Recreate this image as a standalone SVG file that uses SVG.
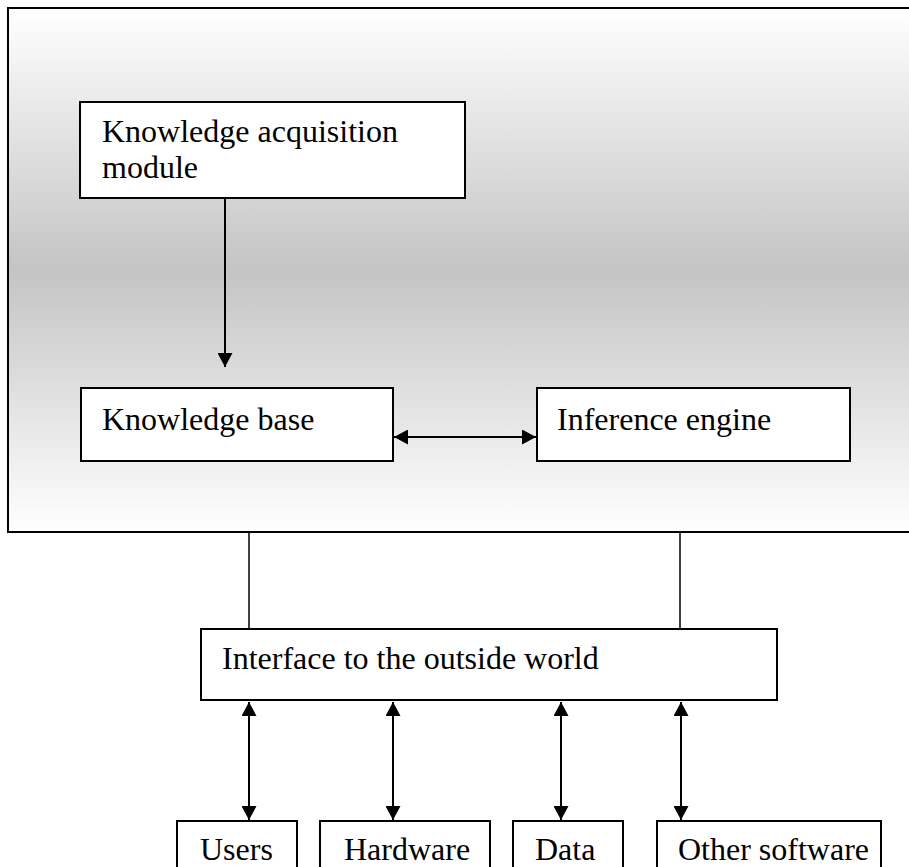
<svg xmlns="http://www.w3.org/2000/svg" width="909" height="867" viewBox="0 0 909 867">
  <defs>
    <linearGradient id="shade" x1="0" y1="0" x2="0" y2="1">
      <stop offset="0" stop-color="#ffffff"/>
      <stop offset="0.5" stop-color="#c4c4c4"/>
      <stop offset="1" stop-color="#ffffff"/>
    </linearGradient>
    <marker id="head" viewBox="0 0 14 15" refX="14" refY="7.5" markerWidth="14" markerHeight="15" markerUnits="userSpaceOnUse" orient="auto-start-reverse">
      <path d="M0,0 L14,7.5 L0,15 Z" fill="#000"/>
    </marker>
  </defs>
  <style>
    .box { fill: #ffffff; stroke: #000000; stroke-width: 2; }
    .label { font-family: "Liberation Serif", "Times New Roman", serif; font-size: 32px; fill: #000000; }
    .arrow { stroke: #000000; stroke-width: 2; fill: none; }
    .plain { stroke: #000000; stroke-width: 1.5; fill: none; }
  </style>

  <rect width="909" height="867" fill="#ffffff"/>

  <!-- shaded system boundary -->
  <g id="system">
    <rect x="8" y="8" width="920" height="524" fill="url(#shade)" stroke="#000" stroke-width="2"/>
  </g>

  <g id="connectors">
    <line class="arrow" x1="225" y1="198" x2="225" y2="367" marker-end="url(#head)"/>
    <line class="arrow" x1="394" y1="437" x2="536" y2="437" marker-start="url(#head)" marker-end="url(#head)"/>
    <line class="plain" x1="249" y1="532" x2="249" y2="629"/>
    <line class="plain" x1="680" y1="532" x2="680" y2="629"/>
    <line class="arrow" x1="249" y1="702" x2="249" y2="820" marker-start="url(#head)" marker-end="url(#head)"/>
    <line class="arrow" x1="393" y1="702" x2="393" y2="820" marker-start="url(#head)" marker-end="url(#head)"/>
    <line class="arrow" x1="561" y1="702" x2="561" y2="820" marker-start="url(#head)" marker-end="url(#head)"/>
    <line class="arrow" x1="681" y1="702" x2="681" y2="820" marker-start="url(#head)" marker-end="url(#head)"/>
  </g>

  <g id="acquisition">
    <rect class="box" x="80" y="102" width="385" height="96"/>
    <text class="label" x="102" y="142">Knowledge acquisition</text>
    <text class="label" x="102" y="178">module</text>
  </g>

  <g id="knowledge-base">
    <rect class="box" x="81" y="388" width="312" height="73"/>
    <text class="label" x="102" y="430">Knowledge base</text>
  </g>

  <g id="inference-engine">
    <rect class="box" x="537" y="388" width="313" height="73"/>
    <text class="label" x="557" y="430">Inference engine</text>
  </g>

  <g id="interface">
    <rect class="box" x="201" y="629" width="576" height="71"/>
    <text class="label" x="222" y="669">Interface to the outside world</text>
  </g>

  <g id="users">
    <rect class="box" x="177" y="821" width="120" height="70"/>
    <text class="label" x="200" y="860">Users</text>
  </g>

  <g id="hardware">
    <rect class="box" x="320" y="821" width="170" height="70"/>
    <text class="label" x="344" y="860">Hardware</text>
  </g>

  <g id="data">
    <rect class="box" x="513" y="821" width="110" height="70"/>
    <text class="label" x="535" y="860">Data</text>
  </g>

  <g id="other-software">
    <rect class="box" x="657" y="821" width="224" height="70"/>
    <text class="label" x="678" y="860">Other software</text>
  </g>
</svg>
